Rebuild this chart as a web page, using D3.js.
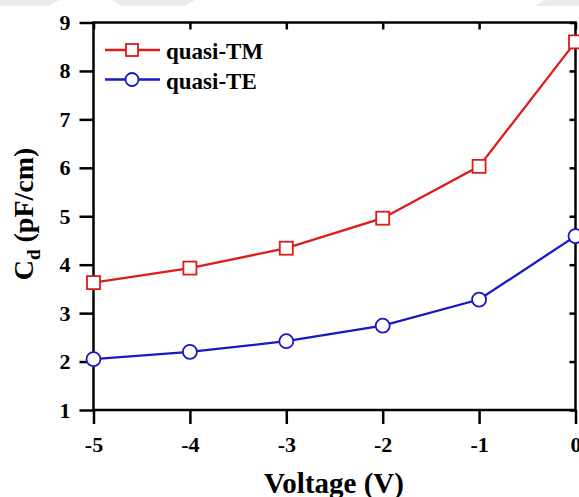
<!DOCTYPE html>
<html>
<head>
<meta charset="utf-8">
<script src="https://cdn.jsdelivr.net/npm/d3@7"></script>
<style>
  body { margin:0; background:#fff; }
  text { font-family: "Liberation Serif", "Times New Roman", serif; font-weight: bold; }
</style>
</head>
<body>
<div id="chart"></div>
<script>
var voltage = [-5, -4, -3, -2, -1, 0];
var quasiTM = [3.63, 3.93, 4.34, 4.96, 6.03, 8.60];
var quasiTE = [2.05, 2.20, 2.42, 2.74, 3.28, 4.59];
var xTicks = [-5, -4, -3, -2, -1, 0];
var yTicks = [1, 2, 3, 4, 5, 6, 7, 8, 9];

var W = 579, H = 497;
var margin = { left:93.5, right:3.5, top:22.5, bottom:87 };
var width = W - margin.left - margin.right,
    height = H - margin.top - margin.bottom;

var svg = d3.select("#chart").append("svg")
    .attr("width", W)
    .attr("height", H)

// faint grey smudge along the top edge of the scan
svg.append("path")
    .attr("d", "M0,0 L60,0 L48,6 L0,6 Z M112,0 L195,0 L185,6 L122,6 Z M545,0 L579,0 L579,6 L535,6 Z")
    .attr("fill", "#ebebeb")

var g = svg.append("g")
    .attr("transform", "translate(" + margin.left + "," + margin.top + ")")

var x = d3.scaleLinear().domain([-5, 0]).range([0, width])
var y = d3.scaleLinear().domain([1, 9]).range([height, 0])

// axes
var xAxis = g.append("g")
    .attr("transform", "translate(0," + height + ")")
    .call(d3.axisBottom(x).tickValues(xTicks).tickSize(14).tickSizeOuter(0).tickPadding(12)
        .tickFormat(d3.format("d")))
var yAxis = g.append("g")
    .call(d3.axisLeft(y).tickValues(yTicks).tickSize(14).tickSizeOuter(0).tickPadding(9))
var topAxis = g.append("g")
    .call(d3.axisBottom(x).tickValues(xTicks).tickSize(7).tickSizeOuter(0).tickFormat(""))
var rightAxis = g.append("g")
    .attr("transform", "translate(" + width + ",0)")
    .call(d3.axisLeft(y).tickValues(yTicks).tickSize(6).tickSizeOuter(0).tickFormat(""))

g.selectAll(".domain").remove()
g.selectAll(".tick line").attr("stroke", "#000").attr("stroke-width", 2.5)
xAxis.selectAll("text").attr("font-size", "22px").attr("fill", "#000")
    .text(function(d){ return d < 0 ? "-" + Math.abs(d) : d; })
yAxis.selectAll("text").attr("font-size", "22px").attr("fill", "#000")

g.append("rect")
    .attr("width", width)
    .attr("height", height)
    .attr("fill", "none")
    .attr("stroke", "#000")
    .attr("stroke-width", 2.5)

// series
var series = [
    { name:"quasi-TM", values:quasiTM, color:"#dd1c1c", marker:"square" },
    { name:"quasi-TE", values:quasiTE, color:"#1818c4", marker:"circle" }
]

var line = d3.line()
    .x(function(d, i){ return x(voltage[i]); })
    .y(function(d){ return y(d); })

series.forEach(function(s){
    g.append("path")
        .datum(s.values)
        .attr("d", line)
        .attr("fill", "none")
        .attr("stroke", s.color)
        .attr("stroke-width", 2.3)

    if (s.marker == "square") {
        g.selectAll(".m-sq")
            .data(s.values).enter()
            .append("rect")
            .attr("x", function(d, i){ return x(voltage[i]) - 6.5; })
            .attr("y", function(d){ return y(d) - 6.5; })
            .attr("width", 13).attr("height", 13)
            .attr("fill", "#fff")
            .attr("stroke", s.color)
            .attr("stroke-width", 1.8)
    } else {
        g.selectAll(".m-ci")
            .data(s.values).enter()
            .append("circle")
            .attr("cx", function(d, i){ return x(voltage[i]); })
            .attr("cy", function(d){ return y(d); })
            .attr("r", 7)
            .attr("fill", "#fff")
            .attr("stroke", s.color)
            .attr("stroke-width", 1.8)
    }
})

// legend
var legend = svg.append("g")
series.forEach(function(s, i){
    var ly = 50 + i * 29.5
    legend.append("line")
        .attr("x1", 105).attr("x2", 160)
        .attr("y1", ly).attr("y2", ly)
        .attr("stroke", s.color).attr("stroke-width", 2.3)
    if (s.marker == "square") {
        legend.append("rect")
            .attr("x", 126).attr("y", ly - 6)
            .attr("width", 12).attr("height", 12)
            .attr("fill", "#fff").attr("stroke", s.color).attr("stroke-width", 1.8)
    } else {
        legend.append("circle")
            .attr("cx", 132).attr("cy", ly).attr("r", 6.5)
            .attr("fill", "#fff").attr("stroke", s.color).attr("stroke-width", 1.8)
    }
    legend.append("text")
        .attr("x", 166).attr("y", ly + 9)
        .attr("font-size", "23px")
        .text(s.name)
})

// axis titles
svg.append("text")
    .attr("x", 334).attr("y", 493)
    .attr("text-anchor", "middle")
    .attr("font-size", "29px")
    .text("Voltage (V)")

var yt = svg.append("text")
    .attr("transform", "translate(33,214) rotate(-90)")
    .attr("text-anchor", "middle")
    .attr("font-size", "28px")
yt.append("tspan").text("C")
yt.append("tspan").attr("dy", 7).attr("font-size", "19px").text("d")
yt.append("tspan").attr("dy", -7).text(" (pF/cm)")
</script>
</body>
</html>
